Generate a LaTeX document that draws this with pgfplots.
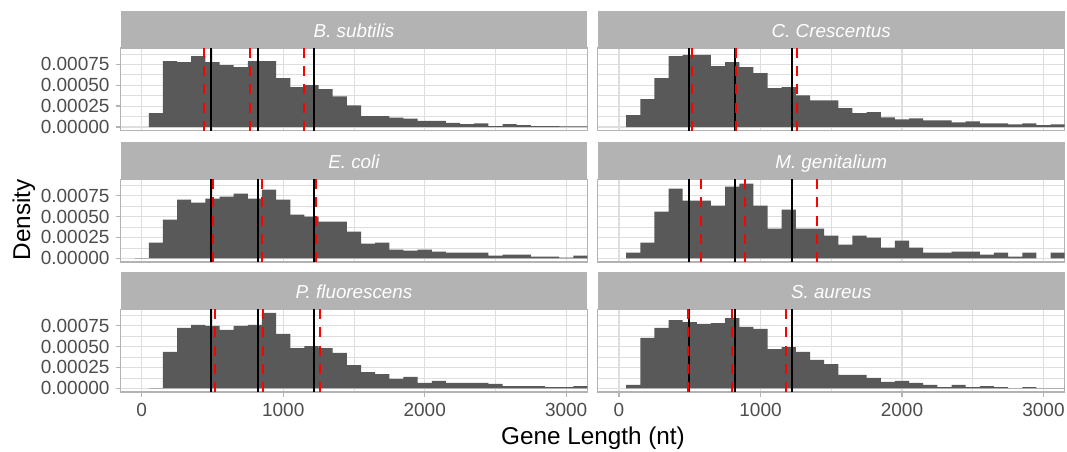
\documentclass[border=0pt]{standalone}
\usepackage{fontspec}
\setmainfont{Liberation Sans}
\usepackage{pgfplots}
\pgfplotsset{compat=1.18}
\definecolor{grey70}{HTML}{B3B3B3}
\definecolor{grey87}{HTML}{DEDEDE}
\definecolor{grey30}{HTML}{4D4D4D}
\definecolor{grey35}{HTML}{595959}
\pgfplotsset{
  facet/.style={
    scale only axis, width=466.9pt, height=82.8pt, anchor=south west,
    xmin=-150, xmax=3150, ymin=-0.000045, ymax=0.000945,
    xtick={0,1000,2000,3000}, minor xtick={500,1500,2500},
    ytick={0,0.00025,0.0005,0.00075},
    minor ytick={0.000125,0.000375,0.000625,0.000875},
    grid=both,
    major grid style={color=grey87, line width=1.1pt},
    minor grid style={color=grey87, line width=0.6pt},
    axis line style={color=grey70, line width=1.3pt},
    tick align=outside, major tick length=5pt, minor tick length=0pt,
    tick style={color=grey70, line width=1.3pt},
    tick label style={font=\fontsize{19}{22}\selectfont, text=grey30, inner sep=0pt},
    /pgf/number format/assume math mode=true,
    scaled y ticks=false, scaled x ticks=false,
    yticklabel style={/pgf/number format/.cd, fixed, fixed zerofill, precision=5},
    xticklabel style={/pgf/number format/.cd, fixed, precision=0, 1000 sep={}},
    xticklabel shift=6.3pt, yticklabel shift=5.8pt,
    tick pos=left,
  },
  noxlab/.style={xticklabels={}, xtick style={draw=none}},
  noylab/.style={yticklabels={}, ytick style={draw=none}},
  hist/.style={ybar, bar width=100, fill=grey35, draw=none},
  vblack/.style={black, line width=2pt},
  vred/.style={red, line width=2pt, dash pattern=on 10pt off 8.3pt},
}
\newcommand{\vl}[2]{\addplot[#1] coordinates {(#2,-0.000045) (#2,0.000945)};}
\newcommand{\blacks}{\vl{vblack}{493}\vl{vblack}{822}\vl{vblack}{1220}}
\begin{document}
\begin{tikzpicture}
\useasboundingbox (0,0) rectangle (1067pt,451pt);
% ---------- Row 1 ----------
\begin{axis}[facet, noxlab, at={(120.5pt,320.2pt)}]
\addplot[hist] coordinates {(100,0.000165) (200,0.000787) (300,0.000775) (400,0.000847) (500,0.000775) (600,0.000739) (700,0.000715) (800,0.000787) (900,0.000787) (1000,0.000584) (1100,0.000476) (1200,0.0005) (1300,0.000452) (1400,0.000368) (1500,0.00026) (1600,0.000129) (1700,0.000129) (1800,0.000113) (1900,0.000102) (2000,0.000073) (2100,0.000073) (2200,0.00005) (2300,0.000034) (2400,0.000045) (2500,0.00001) (2600,0.000034) (2700,0.000022) (2800,0.00001) (2900,0.00001) (3000,0.000008) (3100,0.000008)};
\blacks
\vl{vred}{440}\vl{vred}{766}\vl{vred}{1150}
\end{axis}
\begin{axis}[facet, noxlab, noylab, at={(597.8pt,320.2pt)}]
\addplot[hist] coordinates {(100,0.000141) (200,0.000333) (300,0.000584) (400,0.000847) (500,0.000863) (600,0.000863) (700,0.000727) (800,0.000775) (900,0.000715) (1000,0.000644) (1100,0.000464) (1200,0.000476) (1300,0.00038) (1400,0.00032) (1500,0.00032) (1600,0.000225) (1700,0.000165) (1800,0.000177) (1900,0.000117) (2000,0.000093) (2100,0.000105) (2200,0.000081) (2300,0.000081) (2400,0.000057) (2500,0.000069) (2600,0.000045) (2700,0.000045) (2800,0.000033) (2900,0.000045) (3000,0.000022) (3100,0.000033)};
\blacks
\vl{vred}{516}\vl{vred}{829}\vl{vred}{1258}
\end{axis}
% ---------- Row 2 ----------
\begin{axis}[facet, noxlab, at={(120.5pt,188.9pt)}]
\addplot[hist] coordinates {(0,0.000004) (100,0.000187) (200,0.000463) (300,0.000702) (400,0.000666) (500,0.000714) (600,0.000738) (700,0.000774) (800,0.000714) (900,0.000821) (1000,0.000702) (1100,0.000522) (1200,0.000498) (1300,0.000439) (1400,0.000439) (1500,0.000319) (1600,0.000175) (1700,0.000187) (1800,0.000104) (1900,0.000092) (2000,0.000104) (2100,0.00008) (2200,0.000068) (2300,0.000068) (2400,0.000068) (2500,0.000032) (2600,0.000044) (2700,0.000044) (2800,0.00002) (2900,0.00002) (3000,0.000008) (3100,0.000032)};
\blacks
\vl{vred}{505}\vl{vred}{847}\vl{vred}{1232}
\end{axis}
\begin{axis}[facet, noxlab, noylab, at={(597.8pt,188.9pt)}]
\addplot[hist] coordinates {(100,0.000068) (200,0.000187) (300,0.000558) (400,0.000833) (500,0.00069) (600,0.00069) (700,0.00063) (800,0.000857) (900,0.000893) (1000,0.00063) (1100,0.000355) (1200,0.000582) (1300,0.000355) (1400,0.000355) (1500,0.000271) (1600,0.000163) (1700,0.000271) (1800,0.000247) (1900,0.000128) (2000,0.000211) (2100,0.000128) (2200,0.000068) (2300,0.000068) (2400,0.00008) (2500,0.00008) (2600,0.000044) (2700,0.000068) (2800,0.00002) (2900,0.000068) (3100,0.000068)};
\blacks
\vl{vred}{580}\vl{vred}{888}\vl{vred}{1402}
\end{axis}
% ---------- Row 3 ----------
\begin{axis}[facet, at={(120.5pt,58.9pt)}]
\addplot[hist] coordinates {(100,0.000004) (200,0.000435) (300,0.000722) (400,0.000758) (500,0.000746) (600,0.000698) (700,0.000746) (800,0.000758) (900,0.000901) (1000,0.00065) (1100,0.000482) (1200,0.000506) (1300,0.000482) (1400,0.000423) (1500,0.000279) (1600,0.000195) (1700,0.000171) (1800,0.000112) (1900,0.000136) (2000,0.000064) (2100,0.000088) (2200,0.000064) (2300,0.000064) (2400,0.000064) (2500,0.000052) (2600,0.000028) (2700,0.000028) (2800,0.000028) (2900,0.000016) (3000,0.000016) (3100,0.000028)};
\blacks
\vl{vred}{521}\vl{vred}{860}\vl{vred}{1260}
\end{axis}
\begin{axis}[facet, noylab, at={(597.8pt,58.9pt)}]
\addplot[hist] coordinates {(100,0.00004) (200,0.000602) (300,0.000722) (400,0.000817) (500,0.000793) (600,0.00077) (700,0.000781) (800,0.000841) (900,0.000734) (1000,0.00071) (1100,0.00047) (1200,0.000494) (1300,0.000435) (1400,0.000339) (1500,0.000291) (1600,0.00016) (1700,0.00016) (1800,0.000124) (1900,0.000076) (2000,0.000088) (2100,0.000064) (2200,0.00004) (2300,0.000016) (2400,0.00004) (2500,0.000016) (2600,0.000028) (2700,0.000016) (2800,0.000004) (2900,0.000016) (3000,0.000004) (3100,0.000004)};
\blacks
\vl{vred}{485}\vl{vred}{796}\vl{vred}{1178}
\end{axis}
% ---------- strips ----------
\foreach \xl/\yb in {120.5/403.0, 597.8/403.0, 120.5/271.7, 597.8/271.7, 120.5/141.7, 597.8/141.7}{
  \fill[grey70] (\xl pt,\yb pt) rectangle ++(466.9pt,37pt);
}
\begin{scope}[every node/.style={anchor=base, text=white, font=\fontsize{18.8}{22}\selectfont\itshape}]
\node at (353.95pt,413.7pt) {B. subtilis};
\node at (831.25pt,413.7pt) {C. Crescentus};
\node at (353.95pt,282.4pt) {E. coli};
\node at (831.25pt,282.4pt) {M. genitalium};
\node at (353.95pt,152.4pt) {P. fluorescens};
\node at (831.25pt,152.4pt) {S. aureus};
\end{scope}
% ---------- axis titles ----------
\node[anchor=base, font=\fontsize{24.3}{28}\selectfont] at (593pt,7pt) {Gene Length (nt)};
\node[anchor=base, rotate=90, font=\fontsize{24.3}{28}\selectfont] at (30pt,231pt) {Density};
\end{tikzpicture}
\end{document}
